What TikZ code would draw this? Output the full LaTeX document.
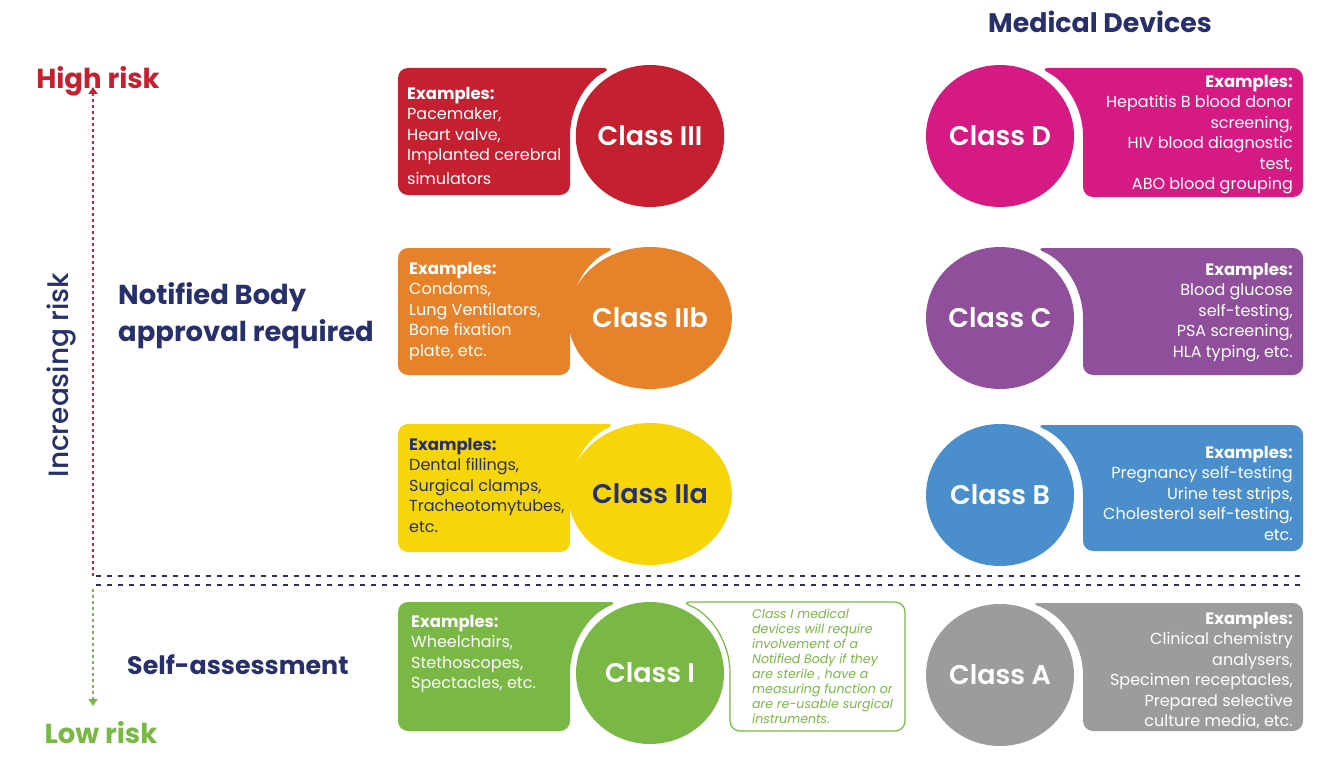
\documentclass[tikz,border=0pt]{standalone}
\usepackage{fontspec}
\setmainfont{Poppins}
\newfontfamily\semibold{Poppins SemiBold}
\newfontfamily\medium{Poppins Medium}
\usetikzlibrary{shapes.geometric,arrows.meta}

\definecolor{navy}{HTML}{27306B}
\definecolor{cIII}{HTML}{C4202F}
\definecolor{cIIb}{HTML}{E6832A}
\definecolor{cIIa}{HTML}{F6D50A}
\definecolor{cI}{HTML}{7AB845}
\definecolor{cD}{HTML}{D51A84}
\definecolor{cC}{HTML}{8F4F9A}
\definecolor{cB}{HTML}{4A8ECB}
\definecolor{cA}{HTML}{9C9C9C}

% Tab whose right side is hollowed out around a disc.
% #1 options, #2 left x, #3 top y, #4 bottom y, #5/#6 disc centre, #7/#8 hollow radii
\newcommand\tableft[8]{%
  \pgfmathsetmacro\tabang{-180-asin((#3-#6)/#8)}%
  \pgfmathsetmacro\tabtip{#5+#7*cos(\tabang)}%
  \path[#1] (#5-#7,#6) [rounded corners=10] -- (#5-#7,#4) -- (#2,#4) -- (#2,#3)
    -- (\tabtip,#3) [sharp corners]
    arc[start angle=\tabang, end angle=-180, x radius=#7, y radius=#8] -- cycle;}
% Tab whose left side is hollowed out around a disc.
% #1 options, #2 right x, #3 top y, #4 bottom y, #5/#6 disc centre, #7/#8 hollow radii
\newcommand\tabright[8]{%
  \pgfmathsetmacro\tabang{asin((#3-#6)/#8)}%
  \pgfmathsetmacro\tabtip{#5+#7*cos(\tabang)}%
  \path[#1] (#5+#7,#6) [rounded corners=10] -- (#5+#7,#4) -- (#2,#4) -- (#2,#3)
    -- (\tabtip,#3) [sharp corners]
    arc[start angle=\tabang, end angle=0, x radius=#7, y radius=#8] -- cycle;}

\tikzset{
  disc/.style={ellipse, minimum width=148, minimum height=142, inner sep=0,
    text=white, font=\semibold\fontsize{27}{32}\selectfont},
  examples/.style={inner sep=0, text=white, font=\fontsize{16}{20.4}\selectfont},
  exleft/.style={examples, anchor=north west, align=left},
  exright/.style={examples, anchor=north east, align=right},
  heading/.style={inner sep=0, text=navy, font=\bfseries\fontsize{26}{37}\selectfont},
  riskaxis/.style={line width=2.6, dash pattern=on 3 off 3},
  divider/.style={navy, line width=2.6, dash pattern=on 5 off 6},
}
\newcommand\exhead{{\bfseries\fontsize{16.5}{20.4}\selectfont Examples:}}

\begin{document}
\begin{tikzpicture}[x=1pt, y=-1pt]
\useasboundingbox (0,0) rectangle (1340,762);

% ---- headings ----
\node[heading, font=\bfseries\fontsize{26.8}{37}\selectfont] (title) at (1100,22) {Medical Devices};
\node[heading, text=cIII, font=\bfseries\fontsize{27.5}{37}\selectfont] (high) at (98,81) {High risk};
\node[heading, text=cI, font=\bfseries\fontsize{27.5}{37}\selectfont] (low) at (101,733) {Low risk};
\node[heading, anchor=west, align=left, font=\bfseries\fontsize{27.4}{37}\selectfont]
  (nb) at (118,316) {Notified Body\\approval required};
\node[heading, anchor=west, font=\bfseries\fontsize{25.3}{37}\selectfont] (self) at (127,665) {Self-assessment};
\node[rotate=90, inner sep=0, text=navy, font=\medium\fontsize{28}{32}\selectfont]
  (incr) at (62,375) {Increasing risk};

% ---- risk axis ----
\coordinate (axtop) at (93,87);
\coordinate (axmid) at (93,576);
\coordinate (axmid2) at (93,589);
\coordinate (axbot) at (93,706);
\draw[riskaxis, cIII, -{Triangle[width=9,length=7]}] (axmid) -- (axtop);
\draw[riskaxis, cI, -{Triangle[width=9,length=7]}] (axmid2) -- (axbot);

% ---- divider between notified body and self-assessment ----
\coordinate (dl1) at (96,576);
\coordinate (dr1) at (1303,576);
\coordinate (dl2) at (96,585);
\coordinate (dr2) at (1303,585);
\draw[divider] (dl1) -- (dr1);
\draw[divider] (dl2) -- (dr2);

% ---- medical devices ----
\tableft{fill=cIII}{398}{68}{195}{650}{136}{80}{77}
\tableft{fill=cIIb}{398}{248}{375}{650}{318}{80}{77}
\tableft{fill=cIIa}{398}{424}{552}{650}{494}{80}{77}
\tableft{fill=cI}{398}{602}{731}{650}{673}{80}{77}
\tabright{draw=cI, line width=1.2, fill=white}{905}{602}{731}{650}{673}{80}{77}

\node[disc, fill=cIII] (cl3) at (650,136) {Class III};
\node[disc, fill=cIIb] (cl2b) at (650,318) {Class IIb};
\node[disc, fill=cIIa, text=navy] (cl2a) at (650,494) {Class IIa};
\node[disc, fill=cI] (cl1) at (650,673) {Class I};

\node[exleft] (ex3) at (407,87) {\exhead\\Pacemaker,\\Heart valve,\\Implanted cerebral\\[3pt]simulators};
\node[exleft] (ex2b) at (409,262) {\exhead\\Condoms,\\Lung Ventilators,\\Bone fixation\\plate, etc.};
\node[exleft, text=navy] (ex2a) at (409,438) {\exhead\\Dental fillings,\\Surgical clamps,\\Tracheotomytubes,\\etc.};
\node[exleft] (ex1) at (411,615) {\exhead\\Wheelchairs,\\Stethoscopes,\\Spectacles, etc.};
\node[anchor=north west, align=left, inner sep=0, text=cI,
  font=\itshape\fontsize{12.6}{14.9}\selectfont] (note1) at (752,609)
  {Class I medical\\devices will require\\involvement of a\\Notified Body if they\\are sterile , have a\\measuring function or\\are re-usable surgical\\instruments.};

% ---- in vitro diagnostic devices ----
\tabright{fill=cD}{1303}{68}{197}{1000}{136}{83}{77}
\tabright{fill=cC}{1303}{248}{375}{1000}{318}{83}{77}
\tabright{fill=cB}{1303}{425}{551}{1000}{495}{83}{77}
\tabright{fill=cA}{1303}{603}{731}{1000}{675}{83}{77}

\node[disc, fill=cD] (clD) at (1000,136) {Class D};
\node[disc, fill=cC] (clC) at (1000,318) {Class C};
\node[disc, fill=cB] (clB) at (1000,495) {Class B};
\node[disc, fill=cA] (clA) at (1000,675) {Class A};

\node[exright] (exD) at (1293,75) {\exhead\\Hepatitis B blood donor\\screening,\\HIV blood diagnostic\\test,\\ABO blood grouping};
\node[exright] (exC) at (1293,263) {\exhead\\Blood glucose\\self-testing,\\PSA screening,\\HLA typing, etc.};
\node[exright] (exB) at (1293,446) {\exhead\\Pregnancy self-testing\\Urine test strips,\\Cholesterol self-testing,\\etc.};
\node[exright] (exA) at (1293,612) {\exhead\\Clinical chemistry\\analysers,\\Specimen receptacles,\\Prepared selective\\culture media, etc.};
\end{tikzpicture}
\end{document}
